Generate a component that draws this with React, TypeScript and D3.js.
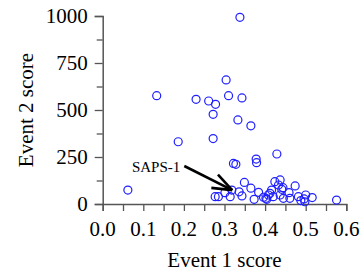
import React, { useRef, useEffect } from 'react';
import * as d3 from 'd3';

// values
const event1 = [0.338, 0.304, 0.133, 0.230, 0.261, 0.278, 0.310, 0.343, 0.272, 0.333, 0.365, 0.272, 0.186, 0.062,
  0.322, 0.328, 0.378, 0.379, 0.429, 0.349, 0.365, 0.384, 0.373, 0.343, 0.336, 0.318, 0.314, 0.285, 0.277, 0.301,
  0.396, 0.402, 0.412, 0.424, 0.437, 0.433, 0.441, 0.474, 0.416, 0.408, 0.420, 0.437, 0.445, 0.459, 0.461, 0.482,
  0.488, 0.498, 0.500, 0.516, 0.576, 0.404, 0.496, 0.444];
const event2 = [993, 660, 576, 557, 548, 530, 576, 564, 477, 447, 416, 348, 331, 74,
  216, 211, 239, 220, 266, 115, 84, 62, 25, 43, 65, 74, 39, 39, 39, 60,
  36, 30, 57, 119, 128, 101, 78, 96, 74, 48, 39, 48, 30, 60, 30, 39,
  18, 12, 48, 34, 21, 25, 27, 87];

const xTicks = [0, 0.1, 0.2, 0.3, 0.4, 0.5, 0.6];
const xMinor = [0.05, 0.15, 0.25, 0.35, 0.45, 0.55];
const yTicks = [0, 250, 500, 750, 1000];
const yMinor = [125, 375, 625, 875];

const label = 'SAPS-1';
const labelPos = [0.072, 170];
const arrowFrom = [0.201, 202];
const arrowTo = [0.319, 74];

const W = 364;
const H = 274;
const FONT = 'Liberation Serif';

const App = () => {
  const svgRef = useRef<SVGSVGElement>(null);

  useEffect(() => {
    const svg = d3.select(svgRef.current);
    svg.selectAll('*').remove();

    const x = d3.scaleLinear().domain([0, 0.6]).range([102.7, 346.3]);
    const y = d3.scaleLinear().domain([0, 1000]).range([204, 16]);

    const axisColor = '#555';

    // y axis (lines only, labels drawn below)
    const gy = svg.append('g').attr('transform', `translate(${x(0)},0)`);
    gy.call(d3.axisLeft(y).tickValues(yTicks).tickSize(8).tickFormat(() => ''));
    const gyMinor = svg.append('g').attr('transform', `translate(${x(0)},0)`);
    gyMinor.call(d3.axisLeft(y).tickValues(yMinor).tickSize(6).tickFormat(() => ''));
    gyMinor.select('.domain').remove();

    // x axis
    const gx = svg.append('g').attr('transform', `translate(0,${y(0)})`);
    gx.call(d3.axisBottom(x).tickValues(xTicks).tickSize(7).tickFormat(() => ''));
    const gxMinor = svg.append('g').attr('transform', `translate(0,${y(0)})`);
    gxMinor.call(d3.axisBottom(x).tickValues(xMinor).tickSize(7).tickFormat(() => ''));
    gxMinor.select('.domain').remove();

    svg.selectAll('.domain').attr('stroke', axisColor).attr('stroke-width', 1.5);
    svg.selectAll('.tick line').attr('stroke', axisColor).attr('stroke-width', 1.3);

    const labels = svg.append('g')
      .style('font-family', FONT)
      .style('font-size', '21px')
      .attr('fill', '#000');

    labels.selectAll('.ylab')
      .data(yTicks)
      .enter()
      .append('text')
      .attr('class', 'ylab')
      .attr('x', x(0) - 15)
      .attr('y', (d) => y(d) + 7)
      .attr('text-anchor', 'end')
      .text((d) => d3.format('d')(d));

    labels.selectAll('.xlab')
      .data(xTicks)
      .enter()
      .append('text')
      .attr('class', 'xlab')
      .attr('x', (d) => x(d))
      .attr('y', y(0) + 32)
      .attr('text-anchor', 'middle')
      .text((d) => d3.format('.1f')(d));

    // points
    svg.append('g')
      .selectAll('circle')
      .data(event1.map((v, i) => [v, event2[i]]))
      .enter()
      .append('circle')
      .attr('cx', (d) => x(d[0]))
      .attr('cy', (d) => y(d[1]))
      .attr('r', 4)
      .attr('fill', 'none')
      .attr('stroke', '#1f1fff')
      .attr('stroke-width', 1.2);

    // annotation
    const x0 = x(arrowFrom[0]);
    const y0 = y(arrowFrom[1]);
    const x1 = x(arrowTo[0]);
    const y1 = y(arrowTo[1]);
    const ang = Math.atan2(y0 - y1, x0 - x1);
    const len = 21;
    const spread = 0.36;
    const head = [ang - spread, ang + spread].map((a) => [x1 + len * Math.cos(a), y1 + len * Math.sin(a)]);
    const arrow = svg.append('g').attr('stroke', '#000').attr('stroke-width', 2.6);
    arrow.append('line').attr('x1', x0).attr('y1', y0).attr('x2', x1).attr('y2', y1);
    head.forEach((p) => {
      arrow.append('line').attr('x1', x1).attr('y1', y1).attr('x2', p[0]).attr('y2', p[1]);
    });

    labels.append('text')
      .attr('x', x(labelPos[0]))
      .attr('y', y(labelPos[1]))
      .style('font-size', '15px')
      .text(label);

    // axis titles
    labels.append('text')
      .attr('x', (x(0) + x(0.6)) / 2)
      .attr('y', 267)
      .attr('text-anchor', 'middle')
      .text('Event 1 score');

    labels.append('text')
      .attr('transform', 'rotate(-90)')
      .attr('x', -(y(0) + y(1000)) / 2)
      .attr('y', 33)
      .attr('text-anchor', 'middle')
      .text('Event 2 score');
  }, []);

  return (
    <svg ref={svgRef} width={W} height={H} style={{ position: 'absolute', left: 0, top: 0, background: '#fff' }} />
  );
};

export default App;
